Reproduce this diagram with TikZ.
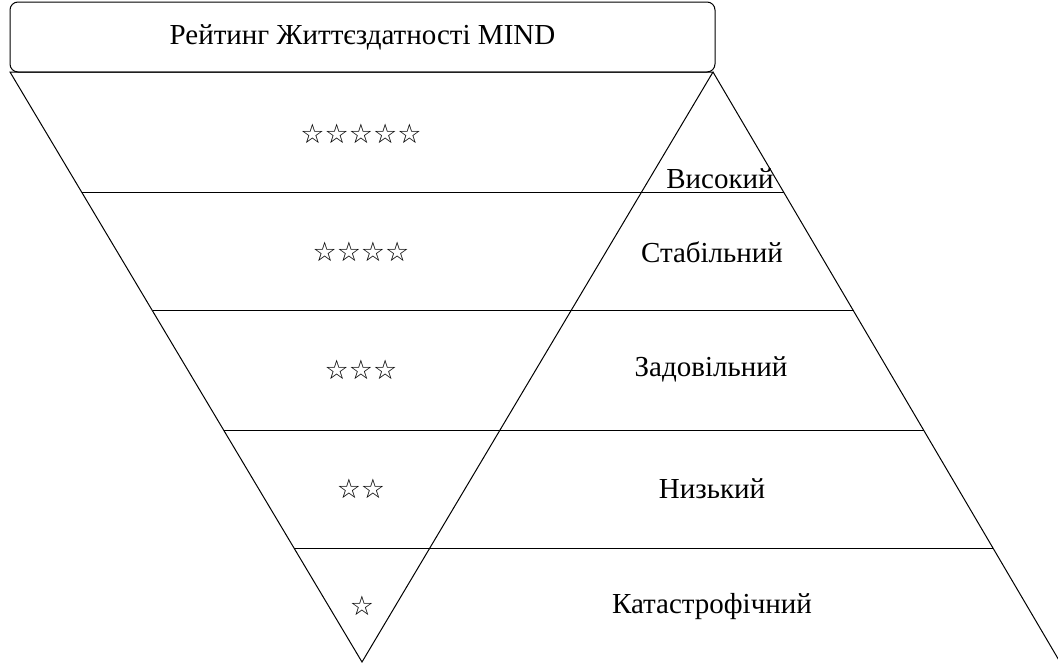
\documentclass[tikz,border=0pt]{standalone}
\usepackage{fontspec}
\setmainfont{Liberation Serif}
\newfontfamily\starfont{DejaVu Sans}
\usetikzlibrary{calc}
\tikzset{
  label/.style={font=\fontsize{29}{32}\selectfont},
  stars/.style={font=\starfont\fontsize{27}{30}\selectfont}
}
\begin{document}
\begin{tikzpicture}[x=1pt,y=-1pt,line width=1pt]
\useasboundingbox (0,0) rectangle (1058,664);
\node[draw=black,rounded corners=8pt,minimum width=705pt,minimum height=70pt,label] (T) at (362.5,37) {Рейтинг Життєздатності MIND};
\coordinate (A) at (10,72);
\coordinate (B) at (713,72);
\coordinate (C) at (362,662);
\coordinate (D) at (1060,662);
\draw (A) -- (B) -- (C) -- cycle;
\draw (B) -- (D);
\foreach \t/\n in {0.205/1,0.405/2,0.607/3,0.807/4}
  \draw ($(A)!\t!(C)$) coordinate (L\n) -- ($(B)!\t!(D)$) coordinate (R\n);
\node[stars] (S5) at (361,134) {☆☆☆☆☆};
\node[stars] (S4) at (361,252) {☆☆☆☆};
\node[stars] (S3) at (361,370) {☆☆☆};
\node[stars] (S2) at (361,489) {☆☆};
\node[stars] (S1) at (362,606) {☆};
\node[label,anchor=base] (V1) at (720,188) {Високий};
\node[label] (V2) at (712,252) {Стабільний};
\node[label] (V3) at (711,369) {Задовільний};
\node[label] (V4) at (712,489) {Низький};
\node[label] (V5) at (712,607) {Катастрофічний};
\end{tikzpicture}
\end{document}
